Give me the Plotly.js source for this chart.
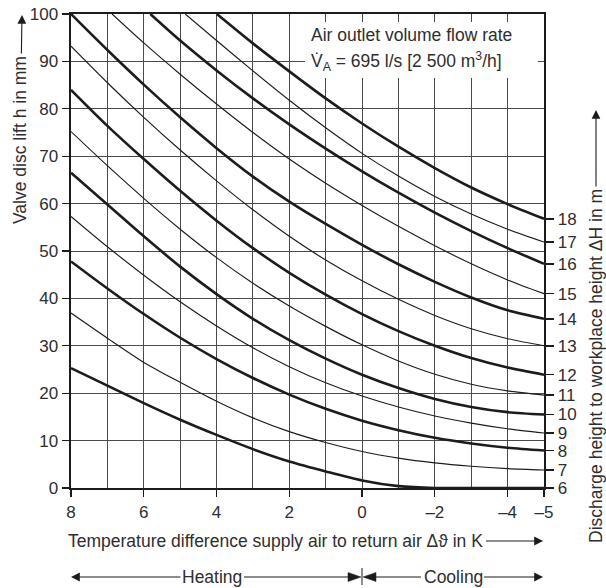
<!DOCTYPE html>
<html>
<head>
<meta charset="utf-8">
<script src="https://cdn.plot.ly/plotly-3.0.1.min.js"></script>
<style>html,body{margin:0;padding:0;background:#fff;}#chart{width:606px;height:588px;}</style>
</head>
<body>
<div id="chart"></div>
<script>
// Temperature difference grid (K)
const dT = [8, 7, 6, 5, 4, 3, 2, 1, 0, -1, -2, -3, -4, -5];

// Valve disc lift (mm) per discharge height ΔH (m)
const h6  = [25.3, 21.6, 17.9, 14.4, 11.2, 8.2, 5.6, 3.5, 1.6, 0.4, 0, 0, 0, 0];
const h7  = [36.9, 31.6, 26.5, 22.3, 18.3, 14.8, 11.9, 9.6, 7.7, 6.3, 5.3, 4.6, 4.1, 3.8];
const h8  = [47.8, 42.1, 36.7, 31.7, 27.2, 23.2, 19.7, 16.7, 14.2, 12.2, 10.6, 9.4, 8.5, 7.9];
const h9  = [57.3, 50.9, 44.9, 39.3, 34.2, 29.6, 25.6, 22.2, 19.4, 17.1, 15.2, 13.7, 12.5, 11.6];
const h10 = [66.5, 59.8, 53.1, 46.7, 40.9, 35.7, 31.2, 27.3, 23.9, 21.1, 18.8, 17.1, 16.0, 15.5];
const h11 = [75.2, 68.0, 61.1, 54.6, 48.6, 43.2, 38.4, 34.1, 30.2, 26.8, 24.0, 21.9, 20.5, 19.6];
const h12 = [84.0, 76.4, 69.4, 62.7, 56.4, 50.6, 45.4, 40.8, 36.7, 33.1, 30.0, 27.4, 25.4, 23.9];
const h13 = [93.2, 85.5, 78.2, 71.3, 64.8, 58.7, 53.1, 48.1, 43.7, 39.8, 36.4, 33.6, 31.5, 30.0];
const h14 = [100, 92.4, 85.1, 78.2, 71.7, 65.7, 60.4, 55.7, 51.3, 47.2, 43.5, 40.2, 37.5, 35.7];
// curves entering through the top edge
const x15 = [6.87, 6, 5, 4, 3, 2, 1, 0, -1, -2, -3, -4, -5];
const h15 = [100, 93.9, 87.3, 81.0, 75.0, 69.4, 64.3, 59.6, 55.2, 51.1, 47.3, 43.9, 41.0];
const x16 = [5.82, 5, 4, 3, 2, 1, 0, -1, -2, -3, -4, -5];
const h16 = [100, 94.4, 88.1, 82.2, 76.7, 71.6, 66.8, 62.3, 58.1, 54.2, 50.6, 47.3];
const x17 = [4.86, 4, 3, 2, 1, 0, -1, -2, -3, -4, -5];
const h17 = [100, 94.4, 88.0, 81.8, 76.0, 70.6, 65.8, 61.5, 57.8, 54.6, 51.9];
const x18 = [3.99, 3, 2, 1, 0, -1, -2, -3, -4, -5];
const h18 = [100, 93.8, 87.9, 82.2, 76.9, 72.0, 67.5, 63.4, 59.9, 56.8];

const dischargeHeights = ['6','7','8','9','10','11','12','13','14','15','16','17','18'];
const xTickVals = [8, 6, 4, 2, 0, -2, -4, -5];
const xTickLabels = ['8', '6', '4', '2', '0', '–2', '–4', '–5'];
const yTickVals = [0, 10, 20, 30, 40, 50, 60, 70, 80, 90, 100];

const curves = [
  [dT, h6], [dT, h7], [dT, h8], [dT, h9], [dT, h10], [dT, h11], [dT, h12],
  [dT, h13], [dT, h14], [x15, h15], [x16, h16], [x17, h17], [x18, h18]
];

const INK = '#1c1c1c';
const TXT = '#2e2e2e';
const traces = curves.map((c, i) => ({
  x: c[0], y: c[1], type: 'scatter', mode: 'lines',
  line: {color: INK, width: (i % 2 === 0) ? 2.6 : 1.15, shape: 'spline', smoothing: 0.8},
  hoverinfo: 'skip', showlegend: false
}));
const endValues = curves.map(c => c[1][c[1].length - 1]);
traces.push({x: endValues.map(() => -5), y: endValues, yaxis: 'y2', type: 'scatter',
  mode: 'markers', marker: {opacity: 0}, hoverinfo: 'skip', showlegend: false});

// layout helpers: pixel -> paper
const L = 71, R = 544, T = 14, B = 488;
const P = px => (px - L) / (R - L);
const Q = py => (B - py) / (B - T);

// text label, optionally with an arrow from the text box to a tip point (pixels)
function label(text, px, py, opts, tip) {
  const a = Object.assign({xref: 'paper', yref: 'paper', text: text,
    xanchor: 'center', yanchor: 'middle', font: {size: 17.5, color: TXT}}, opts || {});
  if (tip) {
    Object.assign(a, {x: P(tip[0]), y: Q(tip[1]), ax: px - tip[0], ay: py - tip[1],
      showarrow: true, arrowhead: 2, arrowsize: 1.6, arrowwidth: 1.1, arrowcolor: INK,
      standoff: 0, startstandoff: tip[2] || 0});
  } else {
    Object.assign(a, {x: P(px), y: Q(py), showarrow: false});
  }
  return a;
}

const annotations = [
  label('Valve disc lift h in mm', 20, 140, {textangle: -90}, [22, 15, 1]),
  label('Temperature difference supply air to return air Δϑ in K', 275, 541, {}, [543, 541, 2]),
  label('Discharge height to workplace height ΔH in m', 596, 366, {textangle: -90}, [596, 110, 1]),
  label('Heating', 212, 577, {}, [71, 577, 0]),
  label('Cooling', 453, 577, {}, [543, 577, 0]),
  label('Air outlet volume flow rate', 309, 35, {xanchor: 'left'}),
  label('V̇<sub>A</sub> = 695 l/s [2 500 m<sup>3</sup>/h]', 309, 62, {xanchor: 'left'})
];

// inner heating/cooling arrows meeting at Δϑ = 0 (pixel geometry)
function pathPx(pts) {
  return 'M ' + pts.map(p => P(p[0]) + ' ' + Q(p[1])).join(' L ') + ' Z';
}
const rowY = 577;
const shapes = [
  {type: 'rect', xref: 'paper', yref: 'paper', x0: P(305), x1: P(538), y0: Q(78), y1: Q(22),
   fillcolor: '#ffffff', line: {width: 0}, layer: 'above'},
  {type: 'line', xref: 'paper', yref: 'paper', x0: P(362), x1: P(362), y0: Q(568), y1: Q(585),
   line: {color: INK, width: 1}},
  {type: 'line', xref: 'paper', yref: 'paper', x0: P(244), x1: P(352), y0: Q(rowY), y1: Q(rowY),
   line: {color: INK, width: 1.1}},
  {type: 'line', xref: 'paper', yref: 'paper', x0: P(372), x1: P(421), y0: Q(rowY), y1: Q(rowY),
   line: {color: INK, width: 1.1}},
  {type: 'path', xref: 'paper', yref: 'paper', path: pathPx([[361, rowY], [348, rowY - 4.5], [348, rowY + 4.5]]),
   fillcolor: INK, line: {color: INK, width: 0.5}},
  {type: 'path', xref: 'paper', yref: 'paper', path: pathPx([[363, rowY], [376, rowY - 4.5], [376, rowY + 4.5]]),
   fillcolor: INK, line: {color: INK, width: 0.5}}
];

const layout = {
  width: 606, height: 588,
  margin: {l: L, r: 606 - R, t: T, b: 588 - B, pad: 0},
  paper_bgcolor: '#ffffff', plot_bgcolor: '#ffffff',
  font: {family: 'Liberation Sans, Arial, sans-serif', size: 17, color: TXT},
  showlegend: false,
  xaxis: {
    range: [8, -5], fixedrange: true, zeroline: false,
    tickmode: 'array', tickvals: xTickVals, ticktext: xTickLabels,
    ticks: 'outside', ticklen: 7, tickwidth: 1.2, tickcolor: INK,
    showgrid: true, gridcolor: '#4a4a4a', gridwidth: 1,
    minor: {dtick: 1, tick0: 0, showgrid: true, gridcolor: '#4a4a4a', gridwidth: 1, ticks: ''},
    showline: true, mirror: true, linecolor: INK, linewidth: 2.4,
    tickfont: {size: 17, color: TXT}
  },
  yaxis: {
    range: [0, 100], fixedrange: true, zeroline: false,
    tickmode: 'array', tickvals: yTickVals,
    ticks: 'outside', ticklen: 7, tickwidth: 1.2, tickcolor: INK,
    showgrid: true, gridcolor: '#4a4a4a', gridwidth: 1,
    showline: true, linecolor: INK, linewidth: 2.4,
    tickfont: {size: 17, color: TXT}
  },
  yaxis2: {
    overlaying: 'y', side: 'right', range: [0, 100], fixedrange: true, zeroline: false,
    tickmode: 'array', tickvals: endValues, ticktext: dischargeHeights,
    ticks: 'outside', ticklen: 8, tickwidth: 1.5, tickcolor: INK,
    showgrid: false, showline: true, linecolor: INK, linewidth: 2.4,
    tickfont: {size: 17, color: TXT}
  },
  annotations: annotations,
  shapes: shapes
};

Plotly.newPlot('chart', traces, layout, {staticPlot: true, displayModeBar: false});
</script>
</body>
</html>
